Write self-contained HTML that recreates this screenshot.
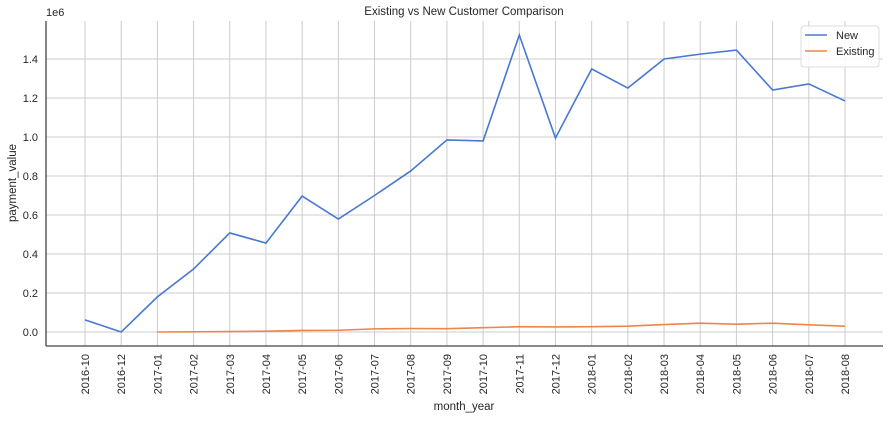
<!DOCTYPE html>
<html><head><meta charset="utf-8"><style>
body{margin:0;background:#fff;font-family:"Liberation Sans",sans-serif;}
svg text{font-family:"Liberation Sans",sans-serif;fill:#262626;}
</style></head><body>
<svg id="c" width="890" height="418"></svg>
<script>
const categories=["2016-10","2016-12","2017-01","2017-02","2017-03","2017-04","2017-05","2017-06","2017-07","2017-08","2017-09","2017-10","2017-11","2017-12","2018-01","2018-02","2018-03","2018-04","2018-05","2018-06","2018-07","2018-08"];
const newValues=[0.062,0.0,0.18,0.323,0.508,0.456,0.697,0.579,0.70,0.826,0.985,0.98,1.523,0.995,1.349,1.251,1.40,1.425,1.446,1.241,1.272,1.185];
const existingValues=[null,null,0.0,0.001,0.002,0.004,0.008,0.009,0.016,0.018,0.017,0.022,0.027,0.026,0.027,0.03,0.038,0.045,0.04,0.045,0.037,0.03];
const yTicks=[0,0.2,0.4,0.6,0.8,1.0,1.2,1.4];
const NS="http://www.w3.org/2000/svg";
const svg=document.getElementById('c');
const L=46,R=883,T=21,B=346;
const x0=85,dx=(845-85)/21;
function xs(i){return x0+i*dx;}
function ys(v){return 332-v*195;}
function el(tag,attrs,parent){const e=document.createElementNS(NS,tag);for(const k in attrs)e.setAttribute(k,attrs[k]);(parent||svg).appendChild(e);return e;}
// grid
yTicks.forEach(v=>{
 const g=el('line',{x1:L,x2:R,y1:ys(v),y2:ys(v),stroke:'#cccccc','stroke-width':1});
 
 
 const t=el('text',{x:L-8,y:ys(v)+4,'text-anchor':'end','font-size':11});
 t.textContent=v.toFixed(1);
 
 
});
categories.forEach((c,i)=>{
 const g=el('line',{x1:xs(i),x2:xs(i),y1:T,y2:B,stroke:'#cccccc','stroke-width':1});
 
 
 const t=el('text',{x:0,y:0,'text-anchor':'end','font-size':11,transform:`translate(${xs(i)+4},${B+8}) rotate(-90)`});
 t.textContent=c;
 
 
});
// spines
const sl=el('line',{x1:L,x2:L,y1:T,y2:B,stroke:'#444','stroke-width':1.3});


const sb=el('line',{x1:L,x2:R,y1:B,y2:B,stroke:'#444','stroke-width':1.3});


function line(vals,color,name){
 let d='';vals.forEach((v,i)=>{if(v===null)return;d+=(d?'L':'M')+xs(i)+','+ys(v);});
 const p=el('path',{d:d,fill:'none',stroke:color,'stroke-width':1.6});
 
 
}
line(newValues,'#4878d0','new-series-line');
line(existingValues,'#ee854a','existing-series-line');
// texts
function txt(s,a,name){const t=el('text',a);t.textContent=s;return t;}
txt('Existing vs New Customer Comparison',{x:464,y:15,'text-anchor':'middle','font-size':11.5},'chart-title');
txt('1e6',{x:46,y:16,'font-size':11},'y-axis-offset');
txt('payment_value',{x:0,y:0,'text-anchor':'middle','font-size':11.5,transform:'translate(16,183) rotate(-90)'},'y-axis-title');
txt('month_year',{x:464,y:410,'text-anchor':'middle','font-size':11.5},'x-axis-title');
// legend
const lg=el('g',{});


el('rect',{x:801,y:26,width:78,height:41,rx:3,fill:'#fff','fill-opacity':0.85,stroke:'#dddddd'},lg);
el('line',{x1:805,x2:827,y1:35,y2:35,stroke:'#4878d0','stroke-width':1.6},lg);
el('line',{x1:805,x2:827,y1:51,y2:51,stroke:'#ee854a','stroke-width':1.6},lg);
const t1=el('text',{x:836,y:39,'font-size':11},lg);t1.textContent='New';


const t2=el('text',{x:836,y:55,'font-size':11},lg);t2.textContent='Existing';


</script>
</body></html>
